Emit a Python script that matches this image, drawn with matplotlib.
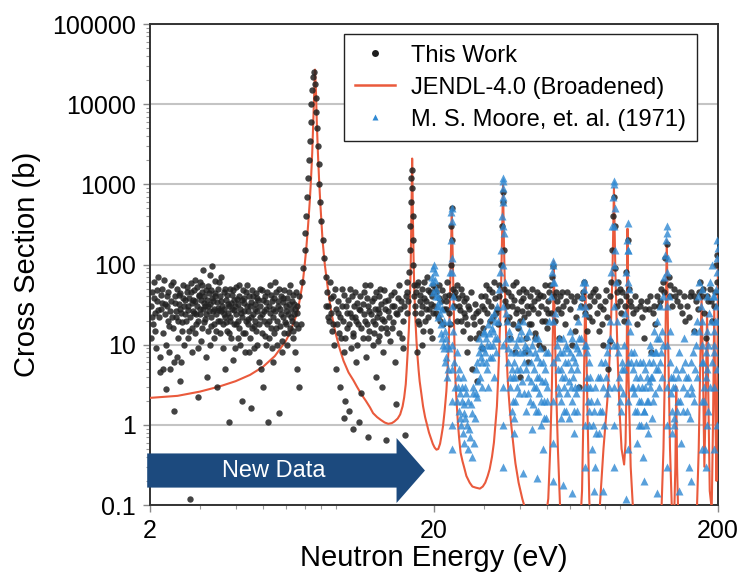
import numpy as np
import matplotlib
matplotlib.use('Agg')
import matplotlib.pyplot as plt
from matplotlib.patches import FancyArrow
from matplotlib.lines import Line2D
from matplotlib.ticker import NullFormatter

plt.rcParams['font.family'] = ['Liberation Sans', 'DejaVu Sans']

# ---- data (energy in eV, cross section in b) ----
this_work = [
    (2.02, 30), (2.04, 45), (2.05, 18), (2.07, 60), (2.08, 25), (2.10, 9), (2.12, 35), (2.13, 70),
    (2.15, 22), (2.17, 4.5), (2.19, 28), (2.21, 50), (2.23, 14), (2.25, 32), (2.27, 2.8), (2.29, 40),
    (2.31, 20), (2.33, 8), (2.36, 26), (2.38, 55), (2.40, 16), (2.42, 1.5), (2.45, 33), (2.47, 22),
    (2.50, 12), (2.52, 42), (2.55, 28), (2.57, 6), (2.60, 19), (2.62, 38), (2.65, 24), (2.76, 0.12),
    (2.70, 52), (2.72, 30), (2.75, 15), (2.78, 45), (2.80, 8), (2.83, 36), (2.86, 25), (2.88, 65),
    (2.91, 18), (2.94, 2.2), (2.97, 40), (3.00, 28), (3.03, 11), (3.06, 55), (3.09, 33), (3.12, 21),
    (3.15, 48), (3.18, 4.0), (3.21, 30), (3.24, 75), (3.27, 17), (3.30, 38), (3.33, 26), (3.37, 12),
    (3.40, 44), (3.43, 3.0), (3.47, 29), (3.50, 60), (3.54, 20), (3.57, 35), (3.61, 9), (3.65, 24),
    (3.68, 50), (3.72, 15), (3.76, 32), (3.80, 1.1), (3.84, 22), (3.88, 42), (3.92, 6.5), (3.96, 27),
    (4.00, 18), (4.05, 37), (4.09, 12), (4.13, 55), (4.18, 25), (4.22, 2.0), (4.27, 33), (4.31, 14),
    (4.36, 46), (4.41, 21), (4.45, 8), (4.50, 30), (4.55, 1.6), (4.60, 40), (4.65, 17), (4.70, 28),
    (4.75, 10), (4.80, 36), (4.86, 22), (4.91, 5), (4.97, 48), (5.02, 26), (5.08, 13), (5.14, 34),
    (5.20, 1.1), (5.26, 20), (5.32, 42), (5.38, 9), (5.44, 28), (5.50, 60), (5.56, 16), (5.63, 35),
    (5.70, 1.4), (5.76, 24), (5.83, 11), (5.90, 38), (5.97, 19), (6.04, 30), (6.11, 14), (6.18, 45),
    (6.25, 22), (6.33, 35), (6.40, 12), (6.47, 28), (6.55, 18), (6.5, 8), (6.6, 5), (6.7, 3),
    (2.01, 12), (2.03, 22), (2.06, 38), (2.09, 15), (2.11, 48), (2.14, 27), (2.16, 7), (2.18, 42),
    (2.20, 33), (2.22, 5), (2.24, 65), (2.26, 24), (2.28, 10), (2.30, 30), (2.32, 46), (2.34, 17),
    (2.35, 5), (2.37, 35), (2.39, 22), (2.41, 60), (2.43, 6), (2.44, 40), (2.46, 26), (2.48, 7),
    (2.49, 50), (2.51, 20), (2.53, 32), (2.54, 3.5), (2.56, 44), (2.58, 25), (2.59, 15), (2.61, 55),
    (2.63, 30), (2.64, 10), (2.66, 36), (2.67, 20), (2.69, 45), (2.71, 27), (2.73, 12), (2.74, 38),
    (2.77, 22), (2.79, 58), (2.81, 33), (2.82, 16), (2.84, 26), (2.85, 48), (2.87, 14), (2.89, 35),
    (2.90, 24), (2.92, 52), (2.93, 30), (2.95, 9), (2.96, 20), (2.98, 42), (2.99, 60), (3.01, 24),
    (3.02, 36), (3.04, 16), (3.05, 46), (3.07, 28), (3.08, 85), (3.10, 19), (3.11, 40), (3.13, 30),
    (3.14, 7), (3.16, 24), (3.17, 36), (3.19, 54), (3.20, 15), (3.22, 44), (3.23, 26), (3.25, 32),
    (3.26, 10), (3.28, 48), (3.29, 22), (3.31, 95), (3.32, 35), (3.35, 18), (3.36, 28), (3.38, 40),
    (3.39, 62), (3.41, 24), (3.42, 15), (3.45, 34), (3.46, 20), (3.48, 50), (3.49, 27), (3.52, 40),
    (3.53, 14), (3.55, 26), (3.56, 70), (3.59, 30), (3.60, 18), (3.63, 45), (3.64, 28), (3.66, 5),
    (3.67, 22), (3.70, 36), (3.71, 19), (3.74, 42), (3.75, 25), (3.78, 14), (3.79, 30), (3.82, 50),
    (3.83, 20), (3.86, 33), (3.87, 12), (3.90, 28), (3.91, 48), (3.94, 18), (3.95, 36), (3.98, 9),
    (3.99, 30), (4.02, 24), (4.03, 52), (4.07, 20), (4.08, 32), (4.11, 40), (4.12, 16), (4.15, 28),
    (4.16, 10), (4.20, 36), (4.21, 22), (4.24, 48), (4.25, 14), (4.29, 26), (4.30, 38), (4.33, 8),
    (4.34, 20), (4.38, 30), (4.39, 55), (4.43, 18), (4.44, 26), (4.47, 40), (4.48, 12), (4.52, 22),
    (4.53, 34), (4.57, 16), (4.58, 48), (4.62, 24), (4.63, 9), (4.67, 32), (4.68, 20), (4.72, 44),
    (4.73, 15), (4.77, 26), (4.78, 38), (4.83, 18), (4.84, 6), (4.88, 30), (4.89, 50), (4.94, 14),
    (4.95, 24), (5.00, 36), (5.01, 3), (5.05, 20), (5.06, 40), (5.11, 28), (5.12, 10), (5.17, 45),
    (5.18, 18), (5.23, 30), (5.24, 12), (5.29, 25), (5.30, 55), (5.35, 16), (5.36, 35), (5.41, 22),
    (5.42, 6), (5.47, 38), (5.48, 14), (5.53, 26), (5.54, 45), (5.59, 20), (5.60, 10), (5.66, 30),
    (5.67, 50), (5.73, 17), (5.74, 28), (5.80, 40), (5.81, 8), (5.86, 22), (5.87, 34), (5.93, 14),
    (5.94, 48), (6.00, 26), (6.01, 18), (6.07, 38), (6.08, 10), (6.14, 24), (6.15, 32), (6.21, 16),
    (6.22, 55), (6.29, 28), (6.30, 20), (6.36, 42), (6.37, 15), (6.44, 32), (6.45, 24), (6.52, 45),
    (6.58, 30), (6.62, 16),
    (6.6, 25), (6.7, 40), (6.8, 18), (6.85, 60), (6.9, 90), (7.0, 150), (7.05, 250), (7.1, 400),
    (7.15, 700), (7.2, 1200), (7.25, 2000), (7.3, 3500), (7.35, 6000), (7.4, 10000), (7.45, 15000),
    (7.5, 22000), (7.55, 25000), (7.6, 18000), (7.65, 12000), (7.7, 8000), (7.75, 5000), (7.8, 3000),
    (7.85, 1800), (7.9, 1000), (7.95, 600), (8.0, 350), (8.1, 200), (8.2, 120), (8.3, 70),
    (8.4, 45), (8.5, 30), (8.55, 20), (8.6, 60), (8.7, 25), (8.75, 15), (8.8, 40), (8.9, 10),
    (9.0, 28), (9.05, 5), (9.1, 18), (9.2, 35), (9.3, 3), (9.35, 22), (9.4, 12), (9.5, 50),
    (9.6, 8), (9.7, 2.0), (9.8, 30), (9.9, 16), (10.0, 1.5), (10.1, 25), (10.2, 9), (10.3, 40),
    (10.4, 14), (10.5, 22), (10.6, 6), (10.7, 33), (10.8, 18), (10.9, 1.1), (11.0, 27), (11.2, 12),
    (11.3, 45), (11.4, 20), (11.5, 7), (11.7, 30), (11.8, 15), (11.9, 55), (12.0, 24), (12.2, 10),
    (12.3, 38), (12.4, 18), (12.5, 4), (12.7, 28), (12.8, 13), (12.9, 50), (13.1, 21), (13.2, 8),
    (13.4, 35), (13.5, 16), (13.6, 0.65), (13.8, 26), (14.0, 11), (14.1, 42), (14.3, 19), (14.5, 30),
    (14.6, 6), (14.8, 24), (15.0, 55), (15.1, 14), (15.3, 35), (15.5, 20), (15.6, 9), (15.8, 0.75),
    (15.9, 40), (16.0, 25), (16.1, 60),
    (8.35, 30), (8.45, 22), (8.65, 38), (8.85, 18), (8.95, 50), (9.15, 25), (9.25, 14), (9.45, 30),
    (9.55, 20), (9.65, 42), (9.75, 12), (9.85, 25), (9.95, 36), (10.05, 18), (10.15, 50), (10.25, 22),
    (10.35, 13), (10.45, 30), (10.55, 45), (10.65, 20), (10.75, 10), (10.85, 28), (10.95, 40), (11.1, 16),
    (11.25, 32), (11.35, 24), (11.45, 55), (11.6, 18), (11.65, 38), (11.75, 12), (11.85, 26), (12.1, 35),
    (12.15, 20), (12.25, 14), (12.35, 28), (12.45, 45), (12.6, 22), (12.65, 11), (12.75, 40), (12.85, 25),
    (13.0, 16), (13.05, 32), (13.3, 20), (13.35, 48), (13.45, 28), (13.7, 14), (13.75, 36), (13.9, 22),
    (14.2, 30), (14.25, 16), (14.4, 45), (14.7, 25), (14.9, 38), (15.2, 28), (15.4, 12), (15.7, 30),
    (16.05, 45), (16.2, 35), (11.05, 2.5), (11.7, 0.7), (13.15, 3), (14.65, 1.8), (9.65, 1.2), (10.35, 0.9),
    (16.3, 80), (16.4, 150), (16.5, 300), (16.55, 600),
    (16.6, 1200), (16.7, 1500), (16.75, 900), (16.8, 400), (16.85, 200), (16.9, 100), (17.0, 55),
    (17.1, 30), (17.3, 45), (17.5, 20), (17.6, 60), (17.8, 35), (18.0, 25), (18.2, 50), (18.3, 15),
    (18.5, 38), (18.7, 28), (18.9, 70), (19.1, 22), (19.3, 45), (19.5, 32), (19.7, 12),
    (17.05, 40), (17.2, 25), (17.4, 55), (17.7, 18), (17.9, 42), (18.1, 30), (18.4, 60), (18.6, 20),
    (18.8, 35), (19.0, 48), (19.2, 28), (19.4, 15), (19.6, 40), (19.8, 25), (19.9, 55), (18.15, 10),
    (17.45, 8),
    (20.0, 30), (20.3, 45), (20.6, 22), (20.9, 55), (21.2, 35), (21.5, 18), (21.8, 40), (22.0, 28),
    (22.3, 60), (22.6, 25), (22.9, 100), (23.0, 300), (23.1, 500), (23.2, 200), (23.3, 50), (23.5, 30),
    (23.8, 45), (24.0, 20), (24.3, 38), (24.6, 27), (24.9, 50), (25.2, 15), (25.5, 35), (25.8, 22),
    (26.1, 8), (26.4, 30), (26.8, 12), (27.2, 5), (27.6, 18), (28.0, 25), (28.4, 3.5), (28.8, 14),
    (29.2, 40), (29.6, 9), (30.0, 28), (30.5, 55), (31.0, 35), (31.5, 20), (32.0, 45), (32.5, 60),
    (33.0, 25), (33.5, 18), (34.0, 40), (34.5, 100), (34.8, 300), (35.0, 800), (35.1, 600), (35.2, 150),
    (35.4, 50), (35.7, 35), (36.0, 20), (36.5, 45), (37.0, 12), (37.5, 30), (38.0, 55), (38.5, 8),
    (39.0, 25), (39.5, 16), (40.0, 4), (40.5, 35), (41.0, 50), (41.5, 22), (42.0, 12), (42.5, 30),
    (43.0, 6), (43.5, 40), (44.0, 18), (44.5, 28), (45.0, 35), (45.5, 14), (46.0, 45), (46.5, 25),
    (47.0, 10), (47.5, 30), (48.0, 20), (48.5, 40), (49.0, 55), (49.5, 28), (50.0, 16), (50.5, 35),
    (51.0, 45), (51.5, 25), (52.0, 70), (52.5, 95), (53.0, 40), (53.5, 20), (54.0, 35), (54.5, 28),
    (55.0, 12), (55.5, 40), (56.0, 25), (57.0, 30), (58.0, 18), (59.0, 45), (60.0, 28), (61.0, 10),
    (62.0, 35), (63.0, 22), (64.0, 40), (65.0, 3), (66.0, 30), (67.0, 45), (68.0, 25), (69.0, 15),
    (70.0, 30), (71.0, 40), (72.0, 20), (73.0, 35), (74.0, 50), (75.0, 25), (76.0, 15), (77.0, 30),
    (78.0, 18), (79.0, 10), (80.0, 35), (81.0, 22), (82.0, 5), (83.0, 11), (84.0, 60), (85.0, 150),
    (85.5, 400), (86.0, 700), (86.5, 300), (87.0, 90), (88.0, 45), (89.0, 60), (90.0, 35), (91.0, 25),
    (92.0, 45), (93.0, 20), (94.0, 30), (95.0, 80), (96.0, 200), (97.0, 50), (98.0, 35), (100.0, 25),
    (102.0, 40), (104.0, 18), (106.0, 30), (108.0, 22), (110.0, 12), (112.0, 35), (114.0, 28), (116.0, 8),
    (118.0, 25), (120.0, 18), (122.0, 40), (124.0, 30), (126.0, 50), (128.0, 60), (130.0, 120), (132.0, 180),
    (134.0, 70), (136.0, 40), (138.0, 30), (140.0, 50), (143.0, 35), (146.0, 45), (149.0, 25), (152.0, 40),
    (155.0, 30), (158.0, 22), (161.0, 45), (164.0, 15), (167.0, 35), (170.0, 28), (173.0, 60), (176.0, 40),
    (179.0, 25), (182.0, 12), (185.0, 35), (188.0, 50), (191.0, 20), (194.0, 30), (197.0, 100), (199.0, 130),
    (20.1, 50), (20.4, 25), (20.8, 38), (21.0, 20), (21.4, 48), (21.7, 28), (22.1, 35), (22.5, 42),
    (22.8, 18), (23.6, 40), (24.1, 55), (24.4, 30), (24.8, 20), (25.0, 42), (25.4, 25), (25.9, 38),
    (26.2, 18), (26.6, 28), (27.0, 45), (27.4, 22), (27.8, 32), (28.2, 12), (28.6, 26), (29.0, 20),
    (29.4, 30), (29.8, 16), (30.2, 40), (30.8, 25), (31.2, 50), (31.8, 30), (32.2, 22), (32.8, 38),
    (33.2, 28), (33.8, 55), (36.2, 30), (36.8, 22), (37.2, 40), (37.8, 18), (38.2, 36), (38.8, 60),
    (39.3, 28), (39.8, 45), (40.2, 20), (40.8, 26), (41.3, 38), (41.8, 8), (42.3, 45), (42.8, 25),
    (43.3, 18), (43.8, 30), (44.3, 50), (45.3, 12), (46.3, 38), (47.3, 42), (48.3, 9), (49.3, 20),
    (50.3, 25), (51.3, 55), (53.8, 45), (56.5, 45), (58.5, 35), (60.5, 40), (62.5, 15), (66.5, 38),
    (67.5, 60), (70.5, 22), (72.5, 45), (75.5, 40), (78.5, 28), (80.5, 48), (83.5, 40), (88.5, 30),
    (90.5, 50), (94.5, 40), (99.0, 30), (103.0, 28), (107.0, 35), (111.0, 28), (115.0, 40), (119.0, 30),
    (125.0, 35), (129.0, 45), (135.0, 55), (141.0, 40), (147.0, 30), (153.0, 20), (159.0, 40), (165.0, 40),
    (171.0, 45), (177.0, 50), (183.0, 40), (189.0, 35), (195.0, 45), (198.0, 60),
]

moore_1971 = [
    (19.6, 60), (19.8, 90), (20.0, 100), (20.2, 80), (20.4, 50), (20.6, 40), (20.8, 30), (21.0, 25),
    (21.2, 18), (21.4, 12), (21.6, 9), (21.8, 15), (22.0, 7), (22.2, 10), (22.4, 5), (22.6, 20),
    (22.8, 80), (22.9, 200), (23.0, 450), (23.1, 350), (23.2, 120), (23.3, 40), (23.4, 15), (23.6, 6),
    (23.8, 3), (24.0, 2), (24.2, 4), (24.4, 1.5), (24.6, 2.5), (24.8, 1.0), (25.0, 3), (25.2, 0.8),
    (25.4, 1.8), (25.6, 0.6), (25.8, 1.2), (26.0, 2.5), (26.3, 0.5), (26.6, 0.9), (26.9, 1.8), (27.2, 0.4),
    (27.5, 3), (27.8, 1.2), (28.1, 5), (28.4, 2.2), (28.7, 8), (29.0, 4), (29.3, 10), (29.6, 6),
    (29.9, 14), (30.2, 8), (30.5, 12), (30.8, 5), (31.1, 18), (31.4, 10), (31.7, 22), (32.0, 7),
    (32.3, 15), (32.6, 25), (32.9, 12), (33.2, 30), (33.5, 20), (33.8, 50), (34.1, 80), (34.4, 150),
    (34.7, 400), (34.9, 900), (35.0, 1100), (35.1, 700), (35.3, 250), (35.5, 60), (35.8, 25), (36.1, 12),
    (36.4, 6), (36.7, 15), (37.0, 3), (37.3, 8), (37.6, 1.5), (37.9, 4), (38.2, 0.8), (38.5, 2),
    (38.8, 10), (39.1, 5), (39.4, 18), (39.7, 2.5), (40.0, 8), (40.4, 12), (40.8, 3.5), (41.2, 20),
    (41.6, 6), (42.0, 1.5), (42.4, 9), (42.8, 4), (43.2, 15), (43.6, 2), (44.0, 6), (44.4, 0.9),
    (44.8, 3), (45.2, 8), (45.6, 1.5), (46.0, 4), (46.0, 0.22), (46.4, 12), (46.8, 2.5), (47.2, 6),
    (47.6, 1.0), (48.0, 3.5), (48.4, 0.5), (48.8, 2), (49.2, 5), (49.6, 1.2), (50.0, 3), (50.5, 8),
    (51.0, 20), (51.5, 40), (52.0, 80), (52.5, 100), (53.0, 60), (53.5, 25), (54.0, 10), (54.5, 5),
    (55.0, 2.5), (55.5, 8), (56.0, 1.2), (56.5, 4), (57.0, 12), (57.5, 3), (58.0, 6), (58.5, 1.5),
    (59.0, 9), (59.5, 3.5), (60.0, 15), (60.5, 5), (61.0, 2), (61.0, 0.14), (61.5, 7), (62.0, 0.8),
    (62.5, 3), (63.0, 10), (63.5, 1.5), (64.0, 5), (64.5, 20), (65.0, 8), (65.5, 30), (66.0, 12),
    (66.5, 40), (67.0, 60), (67.5, 50), (68.0, 25), (68.5, 10), (69.0, 4), (69.5, 2), (70.0, 6),
    (70.5, 1.0), (71.0, 3), (72.0, 0.5), (73.0, 1.5), (74.0, 0.3), (75.0, 2), (76.0, 0.8), (77.0, 4),
    (78.0, 1.5), (79.0, 0.15), (80.0, 6), (81.0, 2.5), (82.0, 10), (83.0, 20), (84.0, 80), (85.0, 300),
    (85.5, 700), (86.0, 1000), (86.5, 500), (87.0, 150), (87.5, 60), (88.0, 20), (89.0, 8), (90.0, 3),
    (91.0, 1.5), (92.0, 5), (93.0, 10), (94.0, 25), (95.0, 80), (95.5, 200), (96.0, 330), (96.5, 150),
    (97.0, 50), (98.0, 15), (99.0, 6), (100.0, 3), (101.0, 8), (102.0, 1.5), (103.0, 4), (104.0, 0.6),
    (105.0, 2), (106.0, 6), (107.0, 1.0), (108.0, 3), (109.0, 0.4), (110.0, 1.5), (111.0, 5), (112.0, 2),
    (113.0, 0.8), (114.0, 3.5), (115.0, 10), (116.0, 4), (117.0, 1.2), (118.0, 6), (119.0, 15), (120.0, 2.5),
    (121.0, 8), (122.0, 20), (122.0, 0.14), (123.0, 5), (124.0, 12), (125.0, 30), (126.0, 8), (127.0, 15),
    (128.0, 40), (129.0, 70), (130.0, 130), (131.0, 200), (132.0, 250), (133.0, 120), (134.0, 40), (135.0, 15),
    (136.0, 6), (137.0, 2.5), (138.0, 0.8), (139.0, 3), (140.0, 1.2), (142.0, 5), (144.0, 2), (146.0, 8),
    (148.0, 0.6), (150.0, 3), (152.0, 12), (154.0, 4), (156.0, 1.5), (158.0, 0.3), (160.0, 6), (162.0, 2.5),
    (164.0, 15), (166.0, 5), (168.0, 20), (170.0, 40), (172.0, 60), (174.0, 30), (176.0, 10), (178.0, 3),
    (180.0, 0.5), (182.0, 8), (184.0, 1.5), (186.0, 25), (188.0, 60), (190.0, 100), (192.0, 40), (194.0, 15),
    (196.0, 50), (198.0, 120), (200.0, 160),
    (23.05, 0.5), (23.05, 1), (23.05, 2), (23.05, 5), (23.05, 10), (23.05, 30), (23.05, 80), (23.05, 500),
    (35.0, 0.3), (35.0, 1), (35.0, 3), (35.0, 10), (35.0, 30), (35.0, 100), (35.0, 300), (35.0, 600),
    (35.0, 1200), (52.6, 0.2), (52.6, 0.6), (52.6, 2), (52.6, 6), (52.6, 20), (52.6, 60), (52.6, 110),
    (68.0, 0.3), (68.0, 1), (68.0, 3), (68.0, 10), (68.0, 30), (68.0, 60), (86.0, 0.3), (86.0, 1),
    (86.0, 3), (86.0, 10), (86.0, 30), (86.0, 100), (86.0, 300), (86.0, 1100), (96.0, 0.5), (96.0, 2),
    (96.0, 6), (96.0, 20), (96.0, 60), (96.0, 150), (132.0, 0.3), (132.0, 1), (132.0, 3), (132.0, 10),
    (132.0, 30), (132.0, 80), (132.0, 300), (175.0, 0.5), (175.0, 2), (175.0, 6), (175.0, 20), (175.0, 50),
    (183.0, 1), (183.0, 5), (183.0, 15), (183.0, 40), (194.0, 0.5), (194.0, 3), (194.0, 10), (194.0, 40),
    (199.0, 1), (199.0, 5), (199.0, 20), (199.0, 80), (199.0, 200),
    (19.7, 70), (19.9, 45), (20.1, 65), (20.3, 40), (20.5, 30), (20.7, 22), (20.9, 35), (21.1, 14),
    (21.3, 28), (21.5, 10), (21.7, 20), (21.9, 6), (22.1, 12), (22.3, 4), (22.5, 9), (24.1, 8),
    (24.3, 3), (24.5, 5), (24.7, 1.2), (25.1, 2), (25.3, 4), (25.5, 1.4), (25.7, 3), (26.1, 1.0),
    (26.4, 2), (26.8, 0.7), (27.1, 1.4), (27.4, 2.5), (27.7, 0.6), (28.0, 2.5), (28.3, 6), (28.6, 3.5),
    (28.9, 12), (29.2, 7), (29.5, 3), (29.8, 9), (30.1, 15), (30.4, 6), (30.7, 10), (31.0, 3),
    (31.3, 14), (31.6, 7), (31.9, 16), (32.2, 10), (32.5, 4), (32.8, 20), (33.1, 8), (33.4, 12),
    (36.2, 20), (36.5, 9), (36.9, 4), (37.2, 12), (37.5, 5), (37.8, 2), (38.1, 6), (38.4, 1.2),
    (38.7, 4), (39.0, 8), (39.3, 3), (39.6, 12), (40.2, 5), (40.6, 15), (41.0, 8), (41.4, 2.5),
    (41.8, 10), (42.2, 5), (42.6, 13), (43.0, 2.5), (43.4, 8), (43.8, 3.5), (44.2, 10), (44.6, 1.8),
    (45.0, 5), (45.4, 12), (45.8, 3), (46.2, 7), (46.6, 1.5), (47.0, 4), (47.4, 9), (47.8, 2),
    (48.2, 6), (48.6, 1.2), (49.0, 3.5), (49.4, 8), (49.8, 2), (54.2, 7), (54.8, 3), (55.2, 12),
    (55.8, 5), (56.2, 2), (56.8, 8), (57.2, 1.5), (57.8, 4), (58.2, 10), (58.8, 2.5), (59.2, 6),
    (59.8, 1.2), (60.2, 8), (60.8, 3), (61.2, 12), (61.8, 4), (62.2, 1.5), (62.8, 6), (63.2, 2.5),
    (63.8, 9), (64.2, 3), (64.8, 12), (69.2, 8), (69.8, 3), (70.2, 1.5), (70.8, 4), (71.5, 2),
    (72.5, 1), (73.5, 3), (74.5, 0.8), (75.5, 4), (76.5, 1.5), (77.5, 6), (78.5, 3), (79.5, 1),
    (80.5, 4), (81.5, 8), (82.5, 3), (83.5, 12), (88.5, 10), (89.5, 4), (90.5, 2), (91.5, 6),
    (92.5, 2.5), (93.5, 5), (98.5, 8), (99.5, 3), (100.5, 5), (101.5, 2.5), (102.5, 6), (103.5, 1.5),
    (104.5, 3), (105.5, 1), (106.5, 4), (107.5, 2), (108.5, 6), (109.5, 1.5), (110.5, 3), (111.5, 1),
    (112.5, 4), (113.5, 2), (114.5, 6), (115.5, 3), (116.5, 8), (117.5, 4), (118.5, 2), (119.5, 8),
    (120.5, 5), (121.5, 12), (123.5, 3), (124.5, 6), (126.5, 4), (127.5, 10), (136.5, 4), (137.5, 1.5),
    (138.5, 4), (139.5, 1), (141.0, 3), (143.0, 1.5), (145.0, 4), (147.0, 2), (149.0, 5), (151.0, 1.5),
    (153.0, 6), (155.0, 2.5), (157.0, 4), (159.0, 1.2), (161.0, 3), (163.0, 8), (165.0, 2), (167.0, 10),
    (169.0, 4), (171.0, 15), (177.0, 6), (179.0, 2), (181.0, 4), (185.0, 10), (187.0, 3), (189.0, 20),
    (191.0, 6), (193.0, 8), (195.0, 20), (197.0, 30), (146.0, 0.15), (160.0, 0.2), (110.0, 0.2), (95.0, 0.12),
    (73.0, 0.15), (57.0, 0.18), (41.0, 0.25), (182.0, 0.3),
]

jendl_e = [
    2.0, 2.5, 3.0, 3.5, 4.0, 4.5, 5.0, 5.5, 6.0, 6.15, 6.3, 6.45, 6.6, 6.75, 6.9, 7.0, 7.1, 7.2,
    7.3, 7.38, 7.45, 7.5, 7.55, 7.62, 7.68, 7.73, 7.8, 7.87, 7.95, 8.1, 8.25, 8.4, 8.55, 8.7,
    9.0, 9.3, 9.6, 10.0, 10.4, 10.7, 11.1, 11.5, 11.9, 12.2, 12.6, 13.0, 13.4, 13.8, 14.2, 14.5,
    14.9, 15.2, 15.5, 15.7, 15.9, 16.0, 16.15, 16.3, 16.45, 16.55, 16.65, 16.75, 16.85, 16.95,
    17.05, 17.2, 17.35, 17.5, 17.65, 17.8, 18.0, 18.3, 18.6, 18.9, 19.2, 19.5, 19.8, 20.1, 20.4,
    20.7, 21.0, 21.2, 21.5, 21.8, 22.1, 22.3, 22.5, 22.7, 22.85, 22.95, 23.1, 23.25, 23.4, 23.5,
    23.65, 23.8, 24.0, 24.3, 24.5, 24.8, 25.2, 25.5, 26.0, 26.7, 27.3, 28.0, 29.0, 29.7, 30.3,
    30.9, 31.4, 32.0, 32.5, 32.9, 33.3, 33.6, 33.9, 34.2, 34.4, 34.65, 34.85, 35.0, 35.2, 35.4,
    35.6, 35.8, 36.0, 36.3, 36.6, 37.0, 37.4, 37.8, 38.3, 38.7, 39.2, 39.7, 40.3, 40.9, 41.5,
    42.5, 49.5, 50.5, 51.3, 52.0, 52.5, 52.8, 53.2, 53.8, 54.6, 55.6, 56.5, 65.5, 66.4,
    67.2, 67.8, 68.2, 68.6, 69.4, 70.4, 71.0, 76.0, 77.0, 79.0, 81.5, 83.5, 85.0, 86.0, 87.0,
    88.5, 90.0, 91.5, 93.4, 94.5, 95.3, 96.0, 96.8, 98.5, 101.0, 126.0, 128.5, 130.5, 132.0,
    133.5, 135.5, 138.0, 140.0, 141.5, 142.5, 143.5, 145.0, 168.0, 171.0, 173.0, 175.0, 177.0,
    179.0, 181.0, 183.0, 185.0, 187.0, 190.0, 192.0, 194.0, 196.0, 197.5, 199.0, 200.0,
]
jendl_xs = [
    2.17, 2.3, 2.6, 3.0, 3.5, 4.2, 5.3, 7.2, 11, 13, 16, 20, 25, 38, 60, 95, 160, 300,
    600, 1200, 2500, 5000, 10000, 27000, 14000, 6000, 2500, 1200, 600, 200, 100, 60, 38, 25,
    14, 9, 6.3, 4.5, 3.6, 3.0, 2.4, 2.0, 1.65, 1.4, 1.25, 1.15, 1.07, 1.03, 1.05, 1.1,
    1.2, 1.35, 1.7, 2.2, 3.2, 4.5, 8, 15, 35, 90, 400, 2100, 400, 110,
    45, 20, 11, 7, 4.8, 3.5, 2.6, 1.7, 1.25, 1.0, 0.8, 0.68, 0.58, 0.52, 0.49,
    0.5, 0.58, 0.7, 0.95, 1.5, 2.6, 4.5, 9, 25, 70, 150, 480, 150, 45, 20,
    7, 3.5, 2.0, 1.0, 0.7, 0.45, 0.35, 0.3, 0.23, 0.19, 0.17, 0.165, 0.16, 0.17, 0.19,
    0.23, 0.28, 0.4, 0.6, 1.0, 1.7, 3.5, 8, 20, 40, 150, 500, 1000, 250, 90,
    40, 17, 8, 4, 2.5, 1.5, 1.0, 0.7, 0.45, 0.33, 0.25, 0.19, 0.15, 0.12, 0.1,
    0.07, 0.07, 0.12, 0.5, 3, 20, 110, 20, 3, 0.5, 0.09, 0.06, 0.06, 0.15,
    1.5, 15, 55, 15, 1.5, 0.12, 0.06, 0.06, 0.12, 0.5, 2, 10, 80, 900, 80,
    8, 1.5, 0.5, 0.32, 0.6, 4, 280, 4, 0.3, 0.06, 0.06, 0.5, 10, 200,
    10, 0.5, 0.06, 0.06, 0.3, 3, 0.3, 0.06, 0.06, 0.5, 5, 40, 5,
    0.3, 2, 25, 2, 0.15, 0.09, 1, 30, 1, 0.2, 5, 150,
]

y_ticks = [0.1, 1, 10, 100, 1000, 10000, 100000]
y_labels = ['0.1', '1', '10', '100', '1000', '10000', '100000']
x_ticks = [2, 20, 200]
x_labels = ['2', '20', '200']

work_e, work_xs = zip(*this_work)
moore_e, moore_xs = zip(*moore_1971)

red = '#ea5a3c'
blue = '#2f89d3'
navy = '#1c4a7e'

fig = plt.figure(figsize=(7.42, 5.79), dpi=100)
ax = fig.add_axes([0.2022, 0.1278, 0.7655, 0.8307])

ax.plot(jendl_e, jendl_xs, color=red, lw=1.5, zorder=3)
ax.plot(work_e, work_xs, 'o', color='#222222', ms=4.6, alpha=0.85, mec='none', zorder=4)
ax.plot(moore_e, moore_xs, '^', color=blue, ms=5.5, alpha=0.8, mec='none', zorder=5)

ax.set_xscale('log')
ax.set_yscale('log')
ax.set_xlim(2, 200)
ax.set_ylim(0.1, 100000)

ax.set_yticks(y_ticks)
ax.set_yticklabels(y_labels)
ax.set_xticks(x_ticks)
ax.set_xticklabels(x_labels)
ax.xaxis.set_minor_formatter(NullFormatter())
ax.yaxis.set_minor_formatter(NullFormatter())
ax.tick_params(axis='both', which='major', labelsize=18, length=5, width=1, color='#888888', pad=5)
ax.tick_params(axis='both', which='minor', length=3, width=0.8, color='#999999')
ax.grid(axis='y', which='major', color='#c4c4c4', lw=1.5, zorder=0)
ax.set_axisbelow(True)
for s in ax.spines.values():
    s.set_color('#333333')
    s.set_linewidth(1.4)

ax.set_xlabel('Neutron Energy (eV)', fontsize=21, labelpad=1)
ax.set_ylabel('Cross Section (b)', fontsize=21, labelpad=8)

# "New Data" arrow at the bottom
arr = FancyArrow(-0.005, 0.0717, 0.489, 0.0, width=0.071, head_width=0.135, head_length=0.05,
                 length_includes_head=True, transform=ax.transAxes, color=navy, ec='none',
                 zorder=6, clip_on=False)
ax.add_patch(arr)
ax.text(0.217, 0.0717, 'New Data', transform=ax.transAxes, color='white', fontsize=17,
        ha='center', va='center', zorder=7)

handles = [
    Line2D([], [], marker='o', ls='none', color='#1e1e1e', ms=5, mec='none'),
    Line2D([], [], color=red, lw=1.8),
    Line2D([], [], marker='^', ls='none', color=blue, ms=5, mec='none'),
]
leg = ax.legend(handles, ['This Work', 'JENDL-4.0 (Broadened)', 'M. S. Moore, et. al. (1971)'],
                loc='upper right', bbox_to_anchor=(0.963, 0.979), borderaxespad=0,
                fontsize=17, fancybox=False, framealpha=1, edgecolor='#222222',
                handlelength=1.7, handletextpad=0.7, borderpad=0.45, labelspacing=0.42)
leg.get_frame().set_linewidth(1.0)
leg.set_zorder(10)

fig.savefig('out.png', dpi=100)
